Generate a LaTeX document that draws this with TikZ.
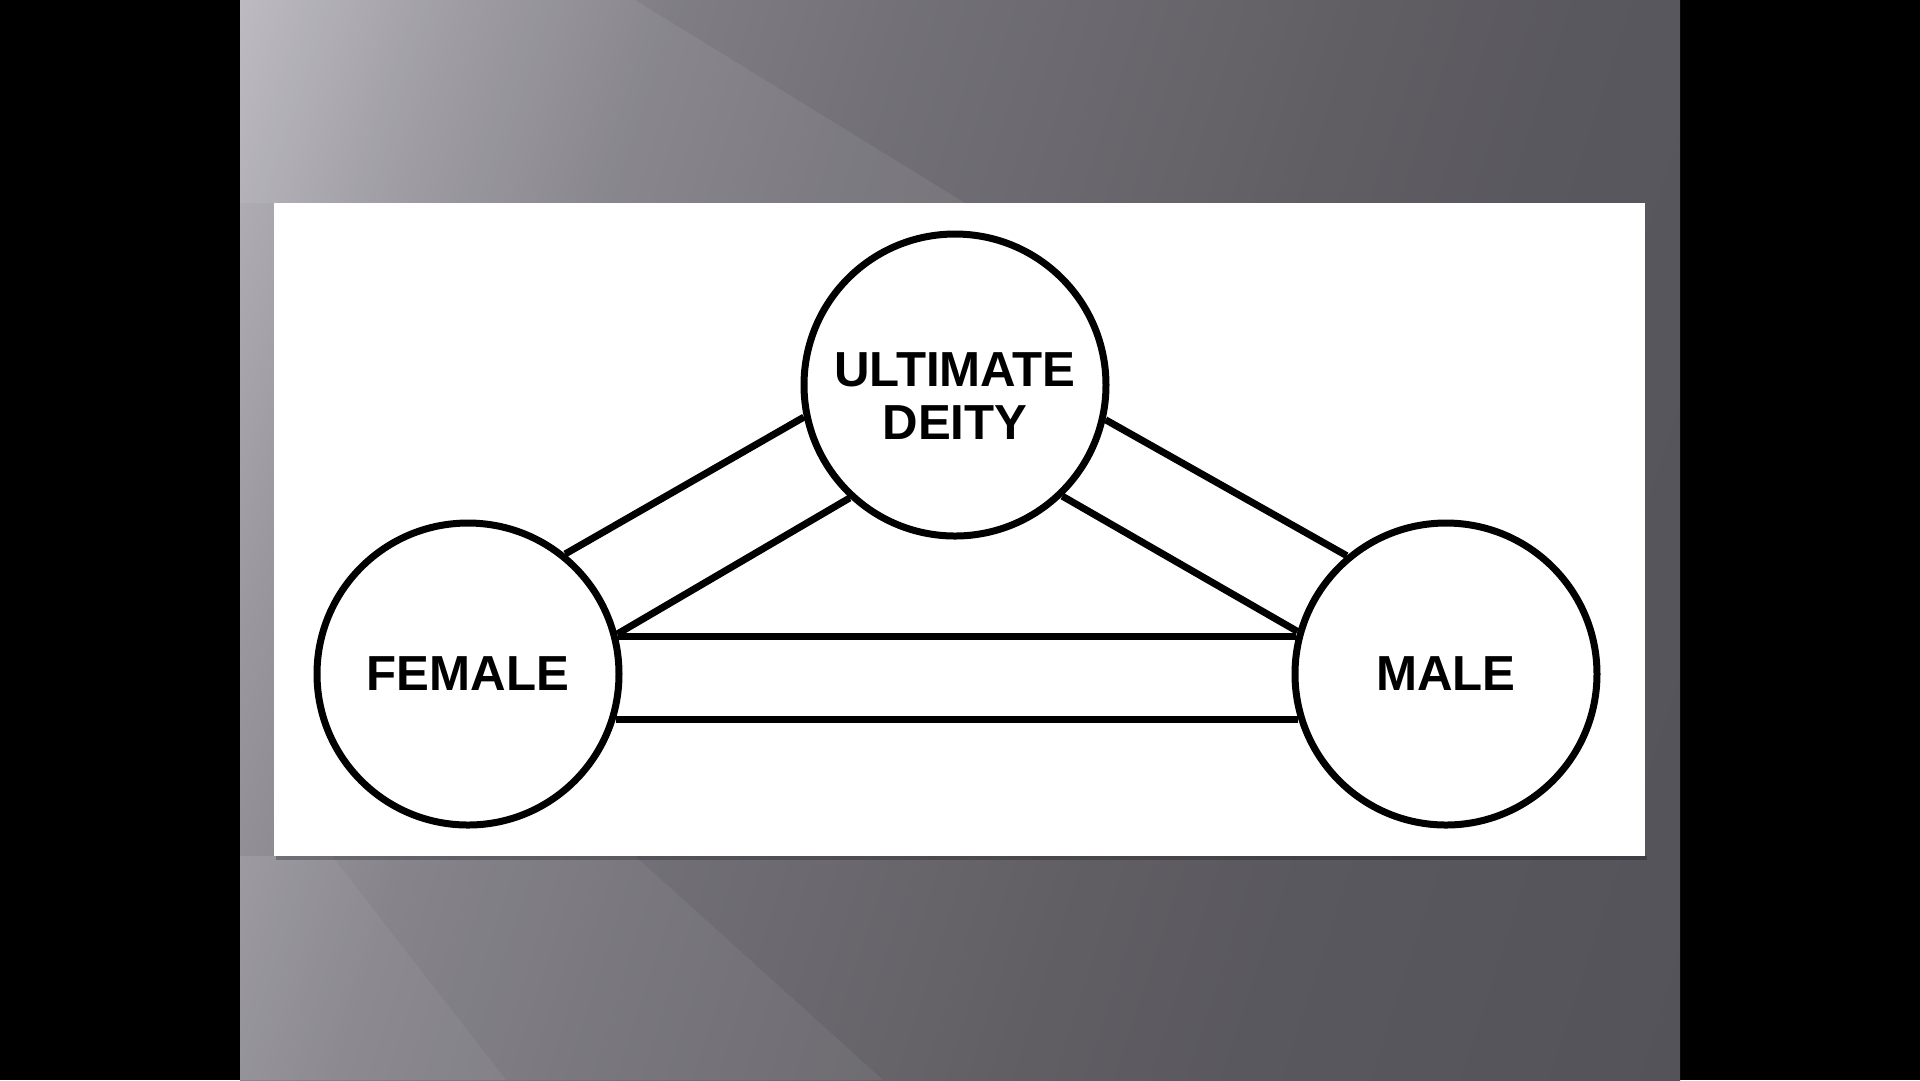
\documentclass[tikz,border=0pt]{standalone}
\usepackage{fontspec}
\setmainfont{Liberation Sans}
\usetikzlibrary{fadings}

\pgfdeclarehorizontalshading{slidegray}{100bp}{rgb(0bp)=(0.74,0.73,0.76); rgb(18bp)=(0.73,0.72,0.75); rgb(26bp)=(0.60,0.59,0.62); rgb(34bp)=(0.50,0.49,0.52); rgb(42bp)=(0.45,0.44,0.47); rgb(58bp)=(0.38,0.37,0.39); rgb(66bp)=(0.35,0.345,0.37); rgb(82bp)=(0.33,0.325,0.35); rgb(100bp)=(0.33,0.325,0.35)}

\begin{document}
\begin{tikzpicture}[x=0.1mm,y=-0.1mm,
	Ring/.style={circle,draw,line width=0.7mm,fill=white,minimum size=30.2mm,inner sep=0pt,
		font=\fontsize{14}{15}\selectfont\bfseries,align=center},
	Bar/.style={line width=0.7mm}]
	% slide
	\fill[black] (0,0) rectangle (1920,1080);
	\shade[shading=slidegray,shading angle=-18] (240,0) rectangle (1680,1080);
	\fill[white,opacity=0.07] (240,0) -- (635,0) -- (965,203) -- (240,203) -- cycle;
	\fill[white,opacity=0.06] (240,856) -- (635,856) -- (883,1080) -- (240,1080) -- cycle;
	\fill[white,opacity=0.05] (240,856) -- (332,856) -- (506,1080) -- (240,1080) -- cycle;
	\fill[black,opacity=0.25] (276,856) rectangle (1647,860);
	\fill[white] (274,203) rectangle (1645,856);
	% circles
	\node[Ring,text height=10.8mm] (deity) at (955,385) {ULTIMATE\\DEITY};
	\node[Ring] (female) at (468,674) {FEMALE};
	\node[Ring] (male) at (1446,674) {MALE};
	% bars
	\draw[Bar] (female.51) -- (deity.192);
	\draw[Bar] (female.15) -- (deity.227);
	\draw[Bar] (male.130) -- (deity.347);
	\draw[Bar] (male.164) -- (deity.314);
	\draw[Bar] (female.14) -- (male.166);
	\draw[Bar] (female.-17) -- (male.197);
\end{tikzpicture}
\end{document}
